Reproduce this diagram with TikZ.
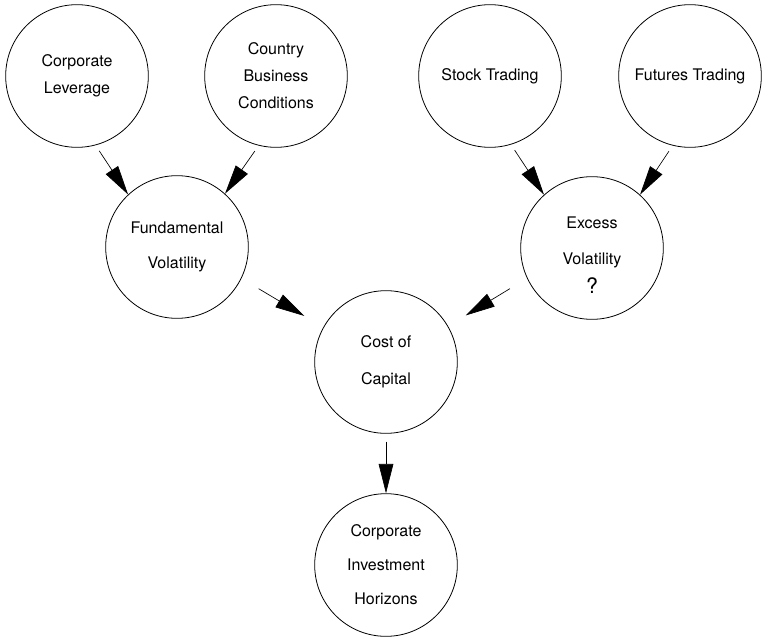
\documentclass[tikz,border=0pt]{standalone}
\usepackage{fontspec}
\setmainfont{TeX Gyre Heros}
\usetikzlibrary{arrows.meta}

\begin{document}
\begin{tikzpicture}[x=0.75pt,y=-0.75pt,
    bubble/.style={draw, circle, line width=0.6pt, minimum size=107pt, inner sep=0pt, align=center},
    link/.style={line width=0.5pt, -{Triangle[length=22pt,width=11pt]}}]
    \useasboundingbox (0,0) rectangle (766,638);

    % causes
    \node [bubble, font=\fontsize{12}{20.25}\selectfont] (lev) at (77,76) {Corporate\\Leverage};
    \node [bubble, font=\fontsize{12}{20.25}\selectfont] (biz) at (276,76) {Country\\Business\\Conditions};
    \node [bubble, font=\fontsize{12}{14}\selectfont] (stock) at (490,76) {Stock Trading};
    \node [bubble, font=\fontsize{12}{14}\selectfont] (fut) at (690,76) {Futures Trading};

    % volatility
    \node [bubble, font=\fontsize{12}{26}\selectfont] (fvol) at (177,247) {Fundamental\\Volatility};
    \node [bubble, font=\fontsize{12}{22}\selectfont] (xvol) at (592,248)
        {\rule{0pt}{19pt}Excess\\[5pt]Volatility\\{\fontsize{16}{16}\selectfont ?}};

    % effects
    \node [bubble, font=\fontsize{12}{28}\selectfont] (coc) at (386,362) {Cost of\\Capital};
    \node [bubble, font=\fontsize{12}{25.5}\selectfont] (hor) at (386,565) {Corporate\\Investment\\Horizons};

    \draw [link, shorten <=5pt] (lev.-75) -- (fvol.133);
    \draw [link, shorten <=5pt] (biz.256) -- (fvol.48);
    \draw [link, shorten <=5pt] (stock.-73) -- (xvol.132);
    \draw [link, shorten <=5pt] (fut.256) -- (xvol.48);
    \draw [link, shorten <=15pt, shorten >=16.5pt] (fvol.-26) -- (coc.151);
    \draw [link, shorten <=15pt, shorten >=15.5pt] (xvol.205) -- (coc.30);
    \draw [link, shorten <=6pt] (coc.south) -- (hor.north);
\end{tikzpicture}
\end{document}
